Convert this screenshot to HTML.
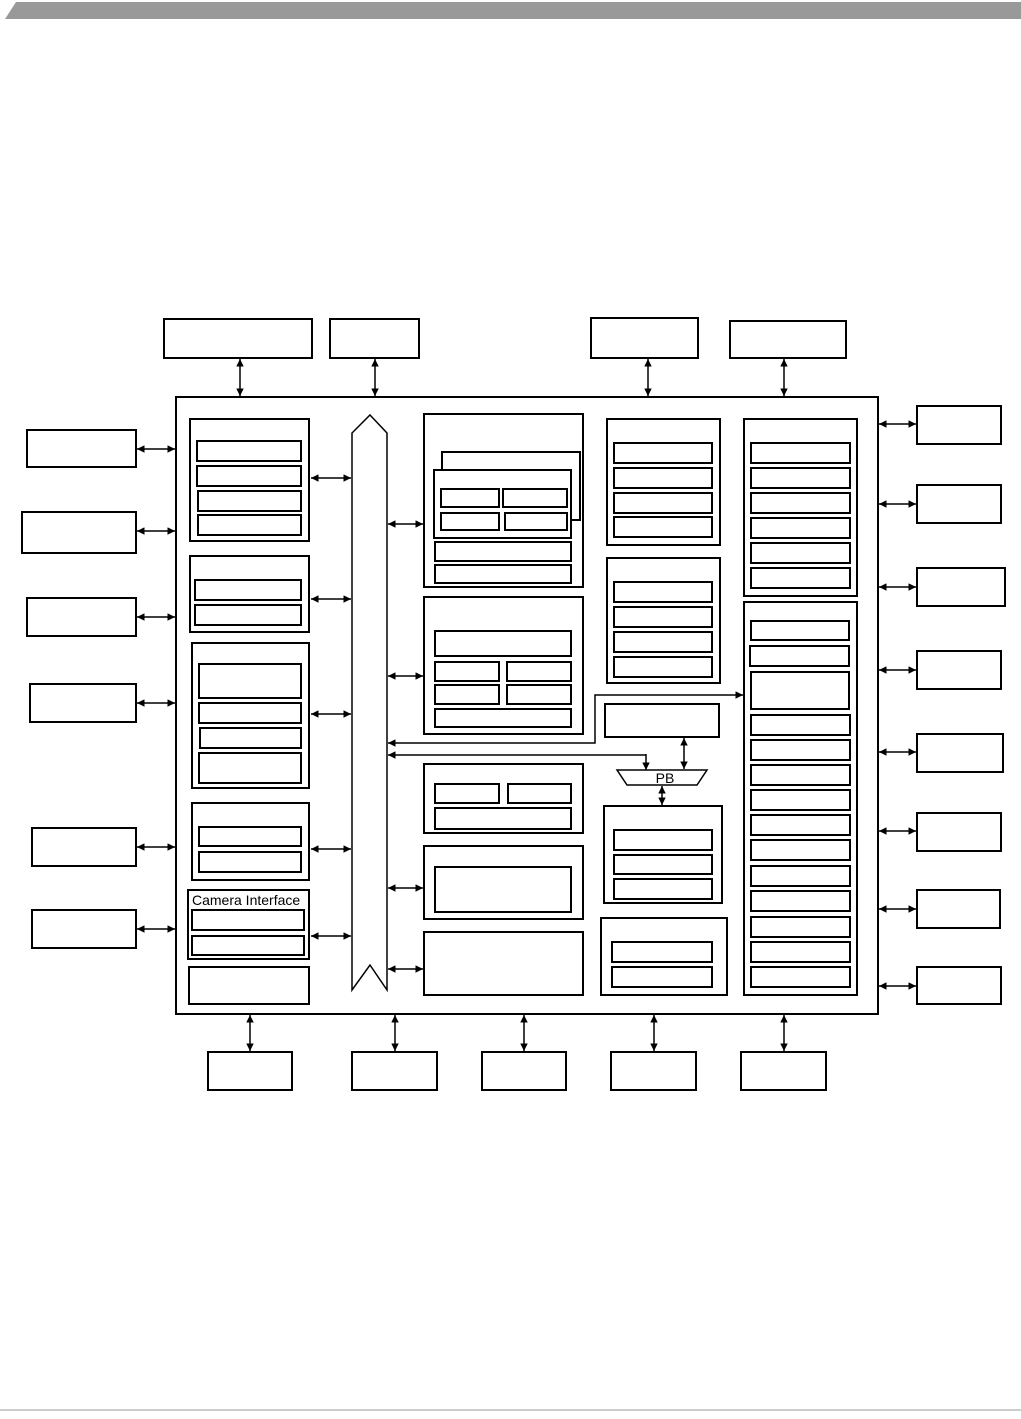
<!DOCTYPE html>
<html><head><style>body{margin:0;background:#fff}svg{display:block}</style></head><body>
<svg width="1021" height="1419" viewBox="0 0 1021 1419" xmlns="http://www.w3.org/2000/svg">
<defs>
<marker id="a" viewBox="0 0 10 10" refX="10" refY="5" markerWidth="5" markerHeight="5" orient="auto-start-reverse"><path d="M0,0L10,5L0,10z" fill="#000"/></marker>
</defs>
<polygon points="5,19 16,2 1021,2 1021,19" fill="#999"/>
<line x1="0" y1="1410" x2="1021" y2="1410" stroke="#999" stroke-width="1"/>
<g fill="none" stroke="#000" stroke-width="2">
<rect x="176" y="397" width="702" height="617"/>
<!-- top ext -->
<rect x="164" y="319" width="148" height="39"/><rect x="330" y="319" width="89" height="39"/>
<rect x="591" y="318" width="107" height="40"/><rect x="730" y="321" width="116" height="37"/>
<!-- left ext -->
<rect x="27" y="430" width="109" height="37"/><rect x="22" y="512" width="114" height="41"/>
<rect x="27" y="598" width="109" height="38"/><rect x="30" y="684" width="106" height="38"/>
<rect x="32" y="828" width="104" height="38"/><rect x="32" y="910" width="104" height="38"/>
<!-- right ext -->
<rect x="917" y="406" width="84" height="38"/><rect x="917" y="485" width="84" height="38"/>
<rect x="917" y="568" width="88" height="38"/><rect x="917" y="651" width="84" height="38"/>
<rect x="917" y="734" width="86" height="38"/><rect x="917" y="813" width="84" height="38"/>
<rect x="917" y="890" width="83" height="38"/><rect x="917" y="967" width="84" height="37"/>
<!-- bottom ext -->
<rect x="208" y="1052" width="84" height="38"/><rect x="352" y="1052" width="85" height="38"/>
<rect x="482" y="1052" width="84" height="38"/><rect x="611" y="1052" width="85" height="38"/>
<rect x="741" y="1052" width="85" height="38"/>
<!-- bus -->
<polygon points="370,415 387,433 387,990 370,965 352,990 352,433" stroke-width="1.5"/>
<!-- left column -->
<rect x="190" y="419" width="119" height="122"/>
<rect x="197" y="441" width="104" height="20"/><rect x="197" y="466" width="104" height="20"/><rect x="198" y="491" width="103" height="20"/><rect x="198" y="515" width="103" height="20"/>
<rect x="190" y="556" width="119" height="76"/>
<rect x="195" y="580" width="106" height="20"/><rect x="195" y="605" width="106" height="20"/>
<rect x="192" y="643" width="117" height="145"/>
<rect x="199" y="664" width="102" height="34"/><rect x="199" y="703" width="102" height="20"/><rect x="200" y="728" width="101" height="20"/><rect x="199" y="753" width="102" height="30"/>
<rect x="192" y="803" width="117" height="77"/>
<rect x="199" y="827" width="102" height="19"/><rect x="199" y="852" width="102" height="20"/>
<rect x="188" y="890" width="121" height="69"/>
<rect x="192" y="910" width="112" height="20"/><rect x="192" y="936" width="112" height="19"/>
<rect x="189" y="967" width="120" height="37"/>
<!-- middle -->
<rect x="424" y="414" width="159" height="173"/>
<rect x="442" y="452" width="138" height="68"/><rect x="434" y="470" width="137" height="68" fill="#fff"/>
<rect x="441" y="489" width="58" height="18"/><rect x="503" y="489" width="64" height="18"/><rect x="441" y="513" width="58" height="17"/><rect x="505" y="513" width="62" height="17"/>
<rect x="435" y="542" width="136" height="19"/><rect x="435" y="565" width="136" height="18"/>
<rect x="424" y="597" width="159" height="137"/>
<rect x="435" y="631" width="136" height="25"/><rect x="435" y="662" width="64" height="19"/><rect x="507" y="662" width="64" height="19"/>
<rect x="435" y="685" width="64" height="19"/><rect x="507" y="685" width="64" height="19"/><rect x="435" y="709" width="136" height="18"/>
<rect x="424" y="764" width="159" height="69"/>
<rect x="435" y="784" width="64" height="19"/><rect x="508" y="784" width="63" height="19"/><rect x="435" y="808" width="136" height="21"/>
<rect x="424" y="846" width="159" height="73"/><rect x="435" y="867" width="136" height="45"/>
<rect x="424" y="932" width="159" height="63"/>
<!-- right middle -->
<rect x="607" y="419" width="113" height="126"/>
<rect x="614" y="443" width="98" height="20"/><rect x="614" y="468" width="98" height="20"/><rect x="614" y="493" width="98" height="20"/><rect x="614" y="517" width="98" height="20"/>
<rect x="607" y="558" width="113" height="125"/>
<rect x="614" y="582" width="98" height="20"/><rect x="614" y="607" width="98" height="20"/><rect x="614" y="632" width="98" height="20"/><rect x="614" y="657" width="98" height="20"/>
<rect x="605" y="704" width="114" height="33"/>
<rect x="604" y="806" width="118" height="97"/>
<rect x="614" y="830" width="98" height="20"/><rect x="614" y="855" width="98" height="19"/><rect x="614" y="879" width="98" height="20"/>
<rect x="601" y="918" width="126" height="77"/>
<rect x="612" y="942" width="100" height="20"/><rect x="612" y="967" width="100" height="20"/>
<!-- right -->
<rect x="744" y="419" width="113" height="177"/>
<rect x="751" y="443" width="99" height="20"/><rect x="751" y="468" width="99" height="20"/><rect x="751" y="493" width="99" height="20"/><rect x="751" y="518" width="99" height="20"/><rect x="751" y="543" width="99" height="20"/><rect x="751" y="568" width="99" height="20"/>
<rect x="744" y="602" width="113" height="393"/>
<rect x="751" y="621" width="98" height="19"/><rect x="750" y="646" width="99" height="20"/><rect x="751" y="672" width="98" height="37"/><rect x="751" y="715" width="99" height="20"/>
<rect x="751" y="740" width="99" height="20"/><rect x="751" y="765" width="99" height="20"/><rect x="751" y="790" width="99" height="20"/><rect x="751" y="815" width="99" height="20"/><rect x="751" y="840" width="99" height="20"/><rect x="751" y="866" width="99" height="20"/><rect x="751" y="891" width="99" height="20"/><rect x="751" y="917" width="99" height="20"/><rect x="751" y="942" width="99" height="20"/><rect x="751" y="967" width="99" height="20"/>
<polygon points="617,770 707,770 697,785 627,785" stroke-width="1.5"/>
</g>
<g stroke="#000" stroke-width="1.5" fill="none" marker-start="url(#a)" marker-end="url(#a)">
<line x1="240" y1="359" x2="240" y2="396"/><line x1="375" y1="359" x2="375" y2="396"/><line x1="648" y1="359" x2="648" y2="396"/><line x1="784" y1="359" x2="784" y2="396"/>
<line x1="137" y1="449" x2="175" y2="449"/><line x1="137" y1="531" x2="175" y2="531"/><line x1="137" y1="617" x2="175" y2="617"/><line x1="137" y1="703" x2="175" y2="703"/><line x1="137" y1="847" x2="175" y2="847"/><line x1="137" y1="929" x2="175" y2="929"/>
<line x1="879" y1="424" x2="916" y2="424"/><line x1="879" y1="504" x2="916" y2="504"/><line x1="879" y1="587" x2="916" y2="587"/><line x1="879" y1="670" x2="916" y2="670"/><line x1="879" y1="752" x2="916" y2="752"/><line x1="879" y1="831" x2="916" y2="831"/><line x1="879" y1="909" x2="916" y2="909"/><line x1="879" y1="986" x2="916" y2="986"/>
<line x1="250" y1="1015" x2="250" y2="1051"/><line x1="395" y1="1015" x2="395" y2="1051"/><line x1="524" y1="1015" x2="524" y2="1051"/><line x1="654" y1="1015" x2="654" y2="1051"/><line x1="784" y1="1015" x2="784" y2="1051"/>
<line x1="311" y1="478" x2="351" y2="478"/><line x1="311" y1="599" x2="351" y2="599"/><line x1="311" y1="714" x2="351" y2="714"/><line x1="311" y1="849" x2="351" y2="849"/><line x1="311" y1="936" x2="351" y2="936"/>
<line x1="388" y1="524" x2="423" y2="524"/><line x1="388" y1="676" x2="423" y2="676"/><line x1="388" y1="888" x2="423" y2="888"/><line x1="388" y1="969" x2="423" y2="969"/>
<line x1="684" y1="738" x2="684" y2="769"/><line x1="662" y1="786" x2="662" y2="805"/>
<polyline points="388,743 595,743 595,695 743,695"/>
</g>
<polyline points="646,755 388,755" stroke="#000" stroke-width="1.5" fill="none" marker-end="url(#a)"/>
<line x1="646" y1="754" x2="646" y2="770" stroke="#000" stroke-width="1.5" marker-end="url(#a)"/>
<g font-family="Liberation Sans, sans-serif" font-size="14" fill="#000">
<text x="192" y="905">Camera Interface</text>
<text x="665" y="783" text-anchor="middle">PB</text>
</g>
</svg>
</body></html>
